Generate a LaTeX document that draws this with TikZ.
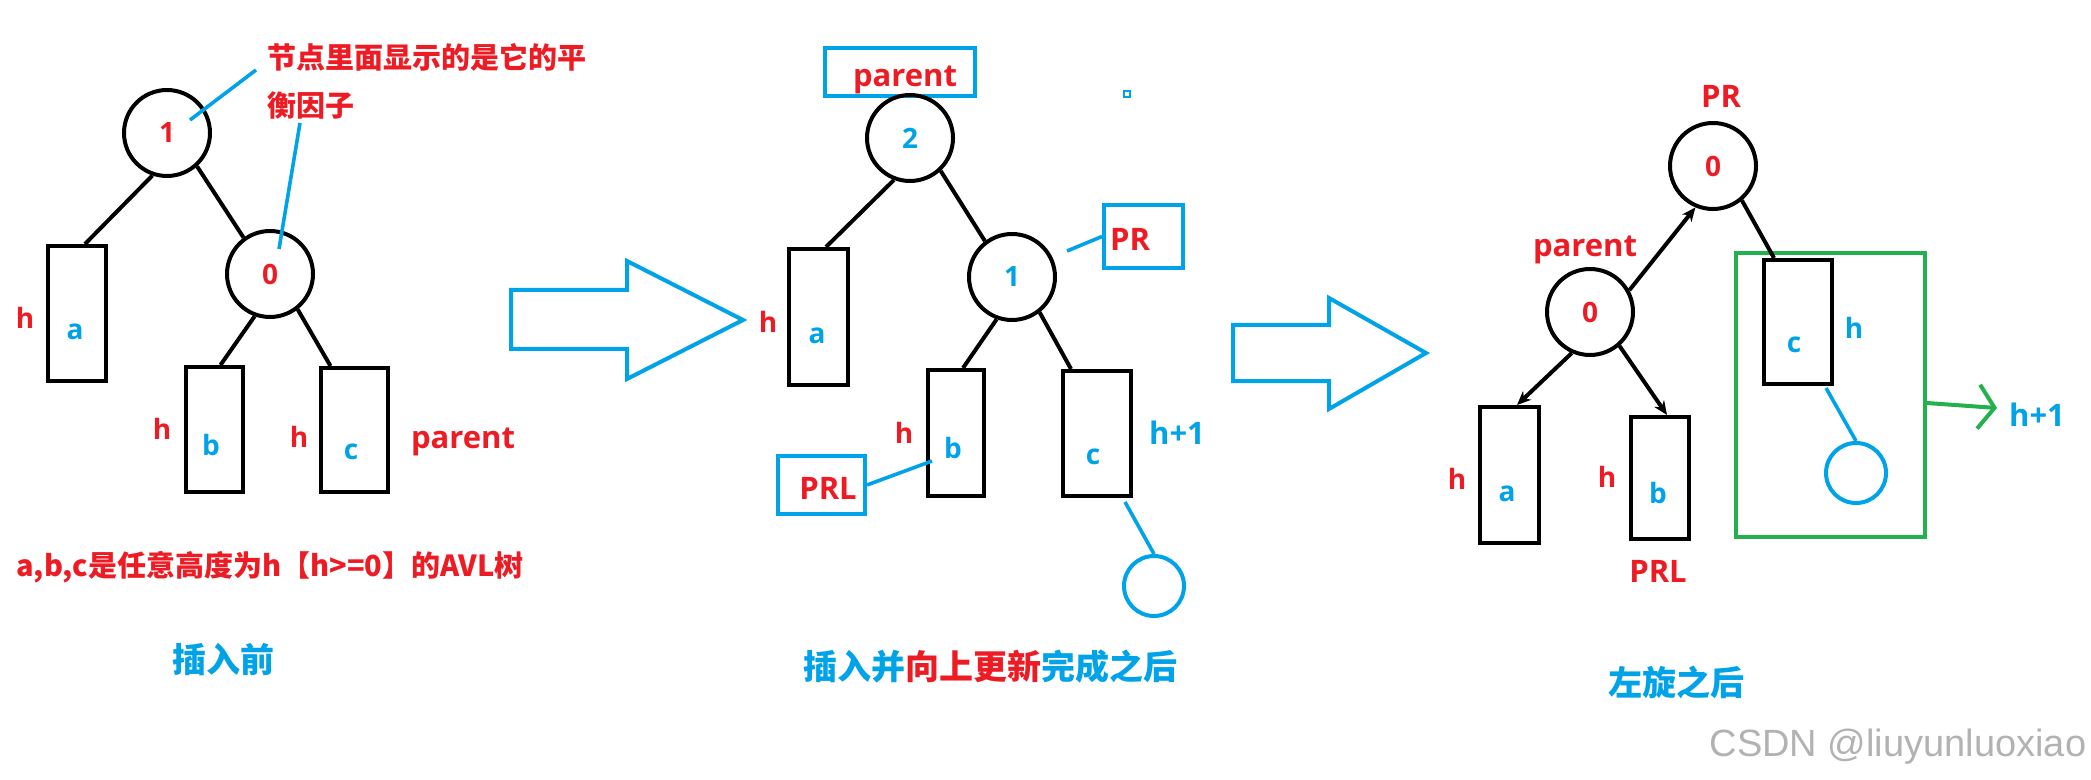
\documentclass[tikz,border=0pt]{standalone}
\usepackage{fontspec}
\setmainfont{Open Sans}
\newfontfamily\cjk{Noto Sans CJK SC}
\newfontfamily\wmfont{Liberation Sans}
\usetikzlibrary{arrows.meta}

\definecolor{myred}{RGB}{237,28,36}
\definecolor{myblue}{RGB}{0,162,232}
\definecolor{mygreen}{RGB}{34,177,76}

\begin{document}
\begin{tikzpicture}[x=0.5pt, y=-0.5pt,
    bfnode/.style={circle, draw, line width=2pt, minimum size=43pt, inner sep=0pt, font=\bfseries\fontsize{14}{16}\selectfont},
    subtree/.style={draw, line width=2pt, inner sep=0pt},
    newleaf/.style={circle, draw=myblue, line width=2pt, minimum size=30pt, inner sep=0pt},
    treeedge/.style={line width=2pt},
    diredge/.style={line width=2pt, -{Stealth[length=7pt,width=6pt]}},
    callout/.style={myblue, line width=1.8pt},
    tagbox/.style={draw=myblue, line width=2pt, inner sep=0pt},
    lbl/.style={font=\bfseries\fontsize{14}{16}\selectfont},
    ptrname/.style={text=myred, font=\bfseries\fontsize{15.5}{18}\selectfont},
    bfnote/.style={text=myred, font=\cjk\bfseries\fontsize{14.5}{17}\selectfont},
    steptitle/.style={text=myblue, font=\cjk\bfseries\fontsize{17}{20}\selectfont},
    bigarrow/.style={draw=myblue, line width=2pt, line join=miter}
  ]
  \useasboundingbox (0,0) rectangle (2091,780);

  % PANEL 1: before insertion
  \node[bfnode, text=myred] (root1) at (167,133) {1};
  \node[bfnode, text=myred] (right1) at (270,274) {0};
  \node[subtree, minimum width=29pt, minimum height=67.5pt] (a1) at (77,313.5) {};
  \node[subtree, minimum width=28.5pt, minimum height=62.5pt] (b1) at (214.5,429.5) {};
  \node[subtree, minimum width=33.5pt, minimum height=62pt] (c1) at (354.5,430) {};

  \draw[treeedge] (root1.251) -- ([xshift=4pt]a1.north);
  \draw[treeedge] (root1.312) -- (right1.126);
  \draw[treeedge] (right1.250) -- ([xshift=3pt]b1.north);
  \draw[treeedge] (right1.308) -- ([xshift=-12pt]c1.north);

  \node[lbl, text=myred] (h1a) at (25,318) {h};
  \node[lbl, text=myblue] (ta1) at (75,332) {a};
  \node[lbl, text=myred] (h1b) at (162,429) {h};
  \node[lbl, text=myblue] (tb1) at (211,445) {b};
  \node[lbl, text=myred] (h1c) at (299,437) {h};
  \node[lbl, text=myblue] (tc1) at (351,452) {c};
  \node[ptrname] (parent1) at (463,442) {parent};

  % balance factor note
  \node[bfnote, anchor=west, inner sep=0pt] (note1) at (267,57) {节点里面显示的是它的平};
  \node[bfnote, anchor=west, inner sep=0pt] (note2) at (267,105) {衡因子};
  \coordinate (k1) at (256,70);
  \coordinate (k1end) at (190,120);
  \coordinate (k2) at (300,123);
  \coordinate (k2end) at (279,249);
  \draw[callout] (k1) -- (k1end);
  \draw[callout] (k2) -- (k2end);

  \node[bfnote, anchor=west, inner sep=0pt] (abcnote) at (16,567) {a,b,c是任意高度为h【h>=0】的AVL树};
  \node[steptitle] (cap1) at (223,660) {插入前};

  % big arrow 1
  \draw[bigarrow] (511,290) -- (627,290) -- (627,261) -- (743,320) -- (627,379) -- (627,349) -- (511,349) -- cycle;

  % PANEL 2: after insertion and update
  \node[tagbox, minimum width=75pt, minimum height=24pt] (ptag2) at (900,72) {};
  \node[ptrname] (ptxt2) at (905,80) {parent};
  \node[bfnode, text=myblue] (parent2) at (910,138) {2};
  \node[bfnode, text=myblue] (pr2) at (1012,277) {1};
  \node[tagbox, minimum width=39.5pt, minimum height=31.5pt] (prtag2) at (1143.5,236.5) {};
  \node[ptrname] (prtxt2) at (1130,239) {PR};
  \node[subtree, minimum width=29.5pt, minimum height=68pt] (a2) at (818.5,317) {};
  \node[subtree, minimum width=28pt, minimum height=63pt] (b2) at (956,433) {};
  \node[subtree, minimum width=34pt, minimum height=62.5pt] (c2) at (1097,433.5) {};
  \node[tagbox, minimum width=43.5pt, minimum height=29pt] (prltag2) at (821.5,485) {};
  \node[ptrname] (prltxt2) at (828,488) {PRL};
  \node[newleaf] (new2) at (1154,586) {};
  \node[draw=myblue, line width=0.8pt, minimum size=3pt, inner sep=0pt] (dot2) at (1127,94) {};

  \draw[treeedge] (parent2.249) -- ([xshift=3.75pt]a2.north);
  \draw[treeedge] (parent2.313) -- (pr2.127);
  \draw[treeedge] (pr2.250) -- ([xshift=3.5pt]b2.north);
  \draw[treeedge] (pr2.308) -- ([xshift=-13pt]c2.north);

  \coordinate (k3) at (1067,251);
  \coordinate (k4) at (932,461);
  \coordinate (k5) at (1125,502);
  \draw[callout] (k3) -- (prtag2.west);
  \draw[callout] (prltag2.east) -- (k4);
  \draw[callout] (k5) -- (new2.north);

  \node[lbl, text=myred] (h2a) at (768,322) {h};
  \node[lbl, text=myblue] (ta2) at (817,336) {a};
  \node[lbl, text=myred] (h2b) at (904,433) {h};
  \node[lbl, text=myblue] (tb2) at (953,448) {b};
  \node[lbl, text=myblue] (tc2) at (1093,457) {c};
  \node[ptrname, text=myblue] (hh2) at (1177,433) {h+1};

  \node[steptitle] (cap2) at (990,667) {插入并\textcolor{myred}{向上更新}完成之后};

  % big arrow 2
  \draw[bigarrow] (1233,325) -- (1329,325) -- (1329,298) -- (1426,353) -- (1329,409) -- (1329,381) -- (1233,381) -- cycle;

  % PANEL 3: after left rotation
  \node[bfnode, text=myred] (pr3) at (1713,166) {0};
  \node[bfnode, text=myred] (parent3) at (1590,312) {0};
  \node[ptrname] (prname3) at (1721,96) {PR};
  \node[ptrname] (pname3) at (1585,250) {parent};
  \node[draw=mygreen, line width=2pt, minimum width=94.5pt, minimum height=142pt, inner sep=0pt] (grp3) at (1830.5,395) {};
  \node[subtree, minimum width=34pt, minimum height=62pt] (c3) at (1798,322) {};
  \node[subtree, minimum width=29.5pt, minimum height=68pt] (a3) at (1509.5,475) {};
  \node[subtree, minimum width=29pt, minimum height=61pt] (b3) at (1660,478) {};
  \node[newleaf] (new3) at (1856,473) {};

  \draw[diredge] (parent3.29) -- (pr3.247);
  \draw[treeedge] (pr3.310) -- ([xshift=-12pt]c3.north);
  \draw[diredge] (parent3.246) -- ([xshift=3.75pt]a3.north);
  \draw[diredge] (parent3.311) -- ([xshift=3.5pt]b3.north);

  \coordinate (k6) at (1826,388);
  \draw[callout] (k6) -- (new3.north);

  \coordinate (g3end) at (1997,408);
  \draw[mygreen, line width=2pt, -{Straight Barb[length=8pt,width=22pt]}] ([yshift=-4pt]grp3.east) -- (g3end);

  \node[lbl, text=myblue] (tc3) at (1794,345) {c};
  \node[lbl, text=myblue] (h3c) at (1854,328) {h};
  \node[ptrname, text=myblue] (hh3) at (2037,415) {h+1};
  \node[lbl, text=myred] (h3a) at (1457,479) {h};
  \node[lbl, text=myblue] (ta3) at (1507,494) {a};
  \node[lbl, text=myred] (h3b) at (1607,477) {h};
  \node[lbl, text=myblue] (tb3) at (1658,493) {b};
  \node[ptrname] (prlname3) at (1658,571) {PRL};

  \node[steptitle] (cap3) at (1676,682) {左旋之后};

  % watermark
  \node[text=black!30, font=\wmfont\fontsize{19}{22}\selectfont] (wm) at (1898,747) {CSDN @liuyunluoxiao};
\end{tikzpicture}
\end{document}
